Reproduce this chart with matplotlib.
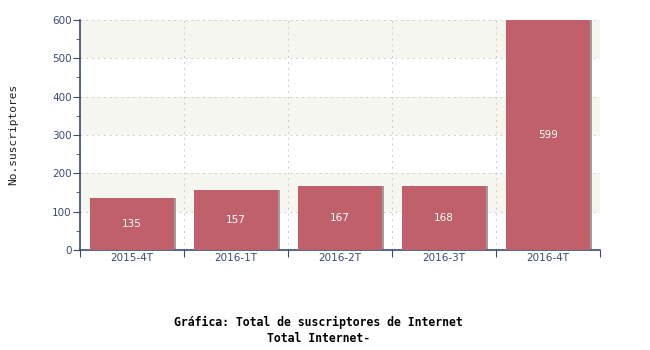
import matplotlib
matplotlib.use('Agg')
import matplotlib.pyplot as plt
from matplotlib.ticker import MultipleLocator, FixedLocator

periodos = ['2015-4T', '2016-1T', '2016-2T', '2016-3T', '2016-4T']
suscriptores = [135, 157, 167, 168, 599]

plt.rcParams['font.family'] = 'DejaVu Sans'
eje = '#3b4a75'

fig = plt.figure(figsize=(6.5, 3.5), dpi=100)
ax = fig.add_axes([0.123, 0.286, 0.8, 0.657])

# franjas de fondo
for y0 in range(100, 600, 200):
    ax.axhspan(y0, y0 + 100, color='#f6f6f1', zorder=0, lw=0)

x = list(range(len(periodos)))
# sombra
ax.bar([i + 0.02 for i in x], suscriptores, width=0.8, color='#a89a9c', zorder=2)
ax.bar(x, suscriptores, width=0.8, color='#c0606a', zorder=3)
for i, v in zip(x, suscriptores):
    ax.text(i, v / 2, str(v), color='white', ha='center', va='center', fontsize=7.5, zorder=4)

ax.set_xlim(-0.5, len(periodos) - 0.5)
ax.set_ylim(0, 600)
ax.xaxis.set_major_locator(FixedLocator([i - 0.5 for i in range(len(periodos) + 1)]))
ax.xaxis.set_minor_locator(FixedLocator(x))
ax.set_xticklabels([])
ax.set_xticklabels(periodos, minor=True)
ax.tick_params(axis='x', which='minor', length=0, pad=2)
ax.tick_params(axis='x', which='major', length=5, color=eje)
ax.yaxis.set_major_locator(MultipleLocator(100))
ax.yaxis.set_minor_locator(MultipleLocator(50))
ax.tick_params(axis='y', which='major', length=5, color=eje, pad=1)
ax.tick_params(axis='y', which='minor', length=3, color=eje)
ax.tick_params(which='both', labelsize=7.5, labelcolor=eje)

ax.grid(True, which='major', color='#cccccc', linestyle=(0, (2, 4)), linewidth=0.7, zorder=1)
ax.set_axisbelow(True)
for s in ['top', 'right']:
    ax.spines[s].set_visible(False)
for s in ['left', 'bottom']:
    ax.spines[s].set_color(eje)
    ax.spines[s].set_linewidth(1.2)

fig.text(0.012, 0.615, 'No.suscriptores', rotation=90, ha='left', va='center',
         fontsize=8, color='#222222', family='DejaVu Sans Mono')
fig.text(0.49, 0.056, 'Gráfica: Total de suscriptores de Internet\nTotal Internet-',
         ha='center', va='center', fontsize=8.3, fontweight='bold', linespacing=1.25,
         family='DejaVu Sans Mono')

fig.savefig('out.png', dpi=100)
